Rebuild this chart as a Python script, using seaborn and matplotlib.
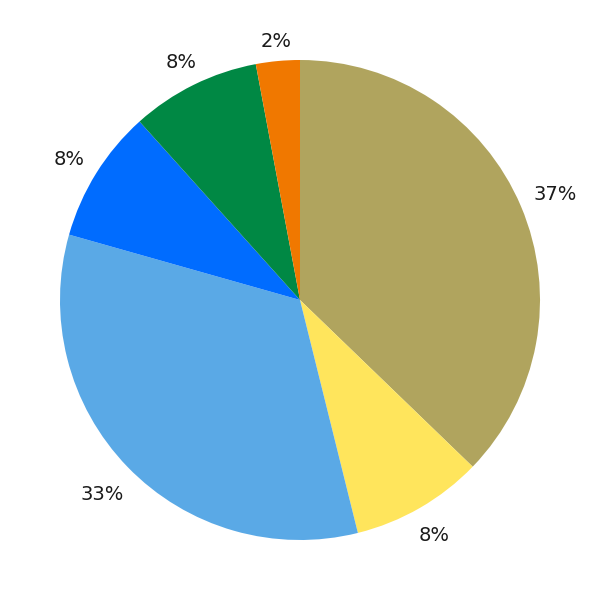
import numpy as np
import matplotlib
matplotlib.use("Agg")
import matplotlib.pyplot as plt
import seaborn as sns

categories = ["A", "B", "C", "D", "E", "F"]
values = [37.2, 8.9, 33.25, 8.95, 8.7, 2.95]
colors = ["#B0A45E", "#FFE55C", "#5AA9E6", "#006CFF", "#008844", "#F07800"]

sns.set_theme(style="white")
plt.rcParams['font.family'] = ['DejaVu Sans']

fig = plt.figure(figsize=(6, 6), dpi=100)
ax = fig.add_axes([0, 0, 1, 1])
wedges, texts, autotexts = ax.pie(
    values, colors=colors, startangle=90, counterclock=False,
    autopct=lambda p: f"{int(p)}%", pctdistance=1.12,
    textprops=dict(fontsize=14, color="#1a1a1a"),
    wedgeprops=dict(linewidth=0),
)
ax.set_xlim(-1.25, 1.25)
ax.set_ylim(-1.25, 1.25)
ax.set_aspect("equal")
ax.axis("off")

# place each label so its box edge sits a fixed gap outside the pie
fig.canvas.draw()
renderer = fig.canvas.get_renderer()
px_per_unit = fig.bbox.width / 2.5
gap = 15 / px_per_unit
drop = 3 / px_per_unit
for w, t in zip(wedges, autotexts):
    ang = np.deg2rad((w.theta1 + w.theta2) / 2)
    bb = t.get_window_extent(renderer)
    hw = bb.width / 2 / px_per_unit
    hh = bb.height * 0.35 / px_per_unit
    ext = abs(np.cos(ang)) * hw + abs(np.sin(ang)) * hh
    d = 1 + gap + ext
    t.set_position((d * np.cos(ang), d * np.sin(ang) - drop))
    t.set_ha("center")
    t.set_va("center")

fig.savefig("out.png", dpi=100, facecolor="white")
